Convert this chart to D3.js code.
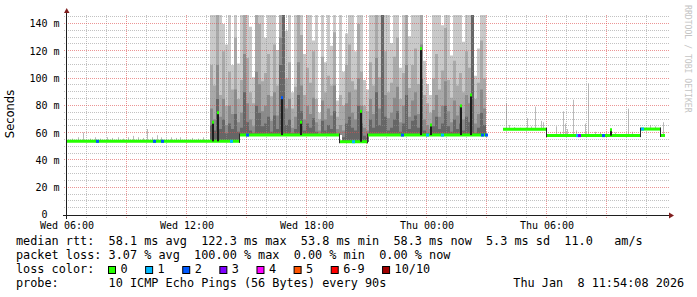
<!DOCTYPE html>
<html>
<head>
<meta charset="utf-8">
<script src="https://cdn.jsdelivr.net/npm/d3@7"></script>
<style>
  html, body { margin: 0; padding: 0; background: #fff; }
  svg { display: block; }
  text { font-family: "DejaVu Sans Mono", monospace; white-space: pre; }
</style>
</head>
<body>
<svg id="chart" width="697" height="297"></svg>
<script>
const parse = d3.timeParse("%Y-%m-%dT%H:%M");

// ── Axes ──────────────────────────────────────────────────────────────────────
const timeStart = "2026-01-07T06:00";
const timeEnd = "2026-01-08T12:00";
const xTickTimes = ["2026-01-07T06:00", "2026-01-07T12:00", "2026-01-07T18:00", "2026-01-08T00:00", "2026-01-08T06:00"];
const xTickLabels = ["Wed 06:00", "Wed 12:00", "Wed 18:00", "Thu 00:00", "Thu 06:00"];
const yTicks = [0, 20, 40, 60, 80, 100, 120, 140];
const yTickLabels = ["0  ", "20 m", "40 m", "60 m", "80 m", "100 m", "120 m", "140 m"];
const yMax = 146.6;

// ── Median rtt (ms), step values; null = no data ─────────────────────────────
const medianTimes = ["2026-01-07T06:00", "2026-01-07T14:39", "2026-01-07T19:39", "2026-01-07T21:03",
  "2026-01-08T03:00", "2026-01-08T03:48", "2026-01-08T06:00", "2026-01-08T10:42", "2026-01-08T11:42", "2026-01-08T11:54"];
const medianValues = [54.0, 58.6, 53.7, 58.6, null, 62.8, 58.2, 63.0, 58.3, 58.3];

// ── Smoke in the busy period, one value every 9 minutes (ms) ─────────────────
const smokeStart = "2026-01-07T13:09";
const smokeStepMin = 9;
const smokeHi = [147,147,147,147,140,125,147,110,147,111,147,147,147,138,101,147,147,147,130,147,147,147,121,
  147,147,135,147,90,147,147,147,118,147,147,128,147,75,147,112,147,124,147,84,147,105,133,
  147,147,120,147,147,99,92,147,147,147,147,147,147,147,126,147,147,108,147,147,131,147,147,
  147,147,113,96,88,147,147,147,139,147,147,117,147,147,147,127,147,147,147,102,122,147,147];
const smokeMid = [110,95,147,88,120,80,105,92,130,85,99,147,115,90,82,147,140,98,104,118,87,125,95,
  147,147,100,112,78,94,147,132,88,108,97,120,85,70,116,90,102,95,134,72,88,80,110,
  125,98,92,140,105,80,76,112,95,147,101,147,120,90,97,116,130,85,104,147,93,110,122,
  96,147,88,82,75,100,118,92,106,137,99,86,113,95,104,90,120,108,147,85,97,128,100];
const smokeLow = [78,70,110,72,85,66,80,74,92,68,75,118,82,70,65,105,96,76,80,88,69,90,73,
  130,147,78,85,64,72,112,95,70,80,74,86,68,62,84,70,78,73,95,63,66,62,82,
  90,75,70,100,80,64,62,85,74,115,78,147,88,71,75,86,94,68,80,110,72,84,90,
  74,125,70,66,63,77,88,72,80,98,76,68,84,73,80,70,88,82,147,67,74,92,78];
const smokeDark = [66,62,85,63,70,60,67,63,74,61,64,90,68,62,60,80,75,65,67,72,61,73,63,
  110,147,66,70,60,63,88,76,62,67,64,71,61,59,69,62,66,63,76,58,58,57,67,
  72,64,62,80,67,58,57,70,64,90,66,147,72,62,64,70,76,61,67,88,63,69,73,
  64,100,62,60,59,65,72,63,67,80,65,61,70,63,67,62,72,68,147,60,64,75,66];

// ── Single light pings in the quiet periods ──────────────────────────────────
const quietSpikeTimes = ["2026-01-07T06:15","2026-01-07T06:33","2026-01-07T06:48","2026-01-07T07:09","2026-01-07T07:24",
  "2026-01-07T07:39","2026-01-07T08:00","2026-01-07T08:15","2026-01-07T08:33","2026-01-07T08:48","2026-01-07T09:03",
  "2026-01-07T09:18","2026-01-07T09:33","2026-01-07T09:48","2026-01-07T10:00","2026-01-07T10:15","2026-01-07T10:30",
  "2026-01-07T10:42","2026-01-07T10:57","2026-01-07T11:12","2026-01-07T11:27","2026-01-07T11:39","2026-01-07T11:57",
  "2026-01-07T12:15","2026-01-07T12:33","2026-01-07T12:48",
  "2026-01-08T03:56","2026-01-08T04:06","2026-01-08T04:21","2026-01-08T04:39","2026-01-08T04:59","2026-01-08T05:12",
  "2026-01-08T05:24","2026-01-08T05:41","2026-01-08T05:47","2026-01-08T06:27","2026-01-08T06:39","2026-01-08T06:48",
  "2026-01-08T06:54","2026-01-08T07:00","2026-01-08T07:18","2026-01-08T07:27","2026-01-08T07:54","2026-01-08T08:04",
  "2026-01-08T08:24","2026-01-08T08:39","2026-01-08T09:09","2026-01-08T09:24","2026-01-08T10:02","2026-01-08T10:15",
  "2026-01-08T11:09","2026-01-08T11:24","2026-01-08T11:47"];
const quietSpikeValues = [56,57,60.5,56,57,56,57,56.5,57,56,57,58,57,56.5,63,57,58.5,57,56,57,56.5,57,56,56.5,56,57,
  82,66,64.5,64,71,65,79.4,69,68,65,61,76,67,63,84.5,62,67,96.5,61,60.5,61.5,60.5,78,61,66,65,68];

// ── Median excursions (dark columns with loss-coloured tip) ──────────────────
const medianSpikeTimes = ["2026-01-07T13:18","2026-01-07T13:33","2026-01-07T16:45","2026-01-07T17:42","2026-01-07T20:42",
  "2026-01-07T23:42","2026-01-08T00:12","2026-01-08T01:42","2026-01-08T02:12","2026-01-08T09:12"];
const medianSpikeValues = [68, 75, 86, 68, 76, 122, 66, 80, 88, 62.5];
const medianSpikeLoss = [0, 0, 2, 0, 0, 0, 0, 0, 0, 0];

// ── Samples with packet loss ──────────────────────────────────────────────────
const lossMarkTimes = ["2026-01-07T07:30","2026-01-07T10:21","2026-01-07T10:45","2026-01-07T14:12","2026-01-07T15:00",
  "2026-01-07T20:18","2026-01-07T22:45","2026-01-08T00:00","2026-01-08T00:45","2026-01-08T02:45","2026-01-08T02:57",
  "2026-01-08T07:30","2026-01-08T07:36","2026-01-08T08:48","2026-01-08T10:45"];
const lossMarkLoss = [2, 2, 2, 1, 2, 1, 2, 1, 1, 2, 2, 1, 3, 2, 1];

// ── Legend ────────────────────────────────────────────────────────────────────
const lossLabels = ["0", "1", "2", "3", "4", "5", "6-9", "10/10"];
const lossPalette = ["#26ff00", "#00b8ff", "#0059ff", "#7e00ff", "#ff00ff", "#ff5500", "#ff0000", "#a10000"];
const rttLine = "median rtt:  58.1 ms avg  122.3 ms max  53.8 ms min  58.3 ms now  5.3 ms sd  11.0   am/s";
const lossLine = "packet loss: 3.07 % avg  100.00 % max  0.00 % min  0.00 % now";
const colorLine = "loss color:";
const probeLine = "probe:       10 ICMP Echo Pings (56 Bytes) every 90s";
const dateLine = "Thu Jan  8 11:54:08 2026";

// ── Setup ─────────────────────────────────────────────────────────────────────
const svg = d3.select("#chart");
const x = d3.scaleTime().domain([parse(timeStart), parse(timeEnd)]).range([67, 667]);
const y = d3.scaleLinear().domain([0, yMax]).range([215, 15]);
const px = (v) => Math.round(v) + 0.5;

const mTimes = medianTimes.map(parse);
function medianAt(t) {
  let v = null;
  for (let i = 0; i < mTimes.length - 1; i++) if (t >= mTimes[i]) v = medianValues[i];
  return v;
}

svg.append("defs").append("clipPath").attr("id", "plot")
  .append("rect").attr("x", 67).attr("y", 15).attr("width", 600).attr("height", 200);
const plot = svg.append("g").attr("clip-path", "url(#plot)");

// ── Smoke ─────────────────────────────────────────────────────────────────────
const s0 = parse(smokeStart);
const smokeTime = (i) => d3.timeMinute.offset(s0, i * smokeStepMin);
const smokeLayers = [
  [smokeHi, "#c9c9c9"], [smokeMid, "#a9a9a9"], [smokeLow, "#8a8a8a"], [smokeDark, "#666666"],
];
smokeLayers.forEach(([vals, col]) => {
  const pts = vals.map((v, i) => ({ t: smokeTime(i), v }));
  pts.push({ t: smokeTime(vals.length), v: vals[vals.length - 1] });
  const area = d3.area()
    .curve(d3.curveStepAfter)
    .x((d) => x(d.t))
    .y0((d) => y(medianAt(d.t) ?? 58.6))
    .y1((d) => y(Math.max(d.v, medianAt(d.t) ?? 58.6)));
  plot.append("path").datum(pts).attr("d", area).attr("fill", col);
});

plot.selectAll(".qspike")
  .data(quietSpikeTimes.map((t, i) => ({ t: parse(t), v: quietSpikeValues[i] })))
  .join("rect")
  .attr("x", (d) => Math.round(x(d.t)))
  .attr("width", 1)
  .attr("y", (d) => y(d.v))
  .attr("height", (d) => y(medianAt(d.t)) - y(d.v))
  .attr("fill", "#bababa");

// ── Grid (drawn over the smoke, as rrdtool does here) ─────────────────────────
const grid = svg.append("g");
const t0 = parse(timeStart), t1 = parse(timeEnd);
d3.timeHour.every(1).range(t0, t1).forEach((t) => {
  const major = t.getHours() % 3 === 0;
  grid.append("line")
    .attr("x1", px(x(t)) - 1).attr("x2", px(x(t)) - 1)
    .attr("y1", 15).attr("y2", 218)
    .attr("stroke", major ? "rgba(222,79,79,0.6)" : "rgba(143,143,143,0.55)")
    .attr("stroke-dasharray", "1,1");
});
d3.range(5, yMax, 5).forEach((v) => {
  const major = v % 20 === 0;
  grid.append("line")
    .attr("x1", 64).attr("x2", 669)
    .attr("y1", px(y(v)) - 1).attr("y2", px(y(v)) - 1)
    .attr("stroke", major ? "rgba(222,79,79,0.6)" : "rgba(143,143,143,0.55)")
    .attr("stroke-dasharray", "1,1");
});

// ── Median line ───────────────────────────────────────────────────────────────
const med = svg.append("g").attr("clip-path", "url(#plot)");
for (let i = 0; i < mTimes.length - 1; i++) {
  const v = medianValues[i];
  if (v == null) continue;
  if (i > 0 && medianValues[i - 1] != null) {
    med.append("rect")
      .attr("x", Math.round(x(mTimes[i])) - 1).attr("width", 1)
      .attr("y", Math.min(y(v), y(medianValues[i - 1])) - 1.5)
      .attr("height", Math.abs(y(v) - y(medianValues[i - 1])) + 3)
      .attr("fill", "#2a2a2a");
  }
  med.append("line")
    .attr("x1", x(mTimes[i])).attr("x2", x(mTimes[i + 1]))
    .attr("y1", y(v)).attr("y2", y(v))
    .attr("stroke", lossPalette[0]).attr("stroke-width", 3);
}

med.selectAll(".mspike")
  .data(medianSpikeTimes.map((t, i) => ({ t: parse(t), v: medianSpikeValues[i], loss: medianSpikeLoss[i] })))
  .join("g")
  .each(function (d) {
    const g = d3.select(this);
    const base = y(medianAt(d.t));
    g.append("rect")
      .attr("x", Math.round(x(d.t)) - 1).attr("width", 2)
      .attr("y", y(d.v)).attr("height", base - y(d.v))
      .attr("fill", "#1e1e1e");
    if (d.v - medianAt(d.t) > 3) {
      g.append("rect")
        .attr("x", Math.round(x(d.t)) - 1).attr("width", 2)
        .attr("y", y(d.v) - 1.5).attr("height", 3)
        .attr("fill", lossPalette[d.loss]);
    }
  });

med.selectAll(".loss")
  .data(lossMarkTimes.map((t, i) => ({ t: parse(t), loss: lossMarkLoss[i] })))
  .join("rect")
  .attr("x", (d) => Math.round(x(d.t)) - 1).attr("width", 3)
  .attr("y", (d) => y(medianAt(d.t)) - 1.5).attr("height", 3)
  .attr("fill", (d) => lossPalette[d.loss]);

// ── Axes ──────────────────────────────────────────────────────────────────────
const axis = svg.append("g");
axis.append("line").attr("x1", 63).attr("x2", 670).attr("y1", px(y(0))).attr("y2", px(y(0)))
  .attr("stroke", "#1f1f1f");
axis.append("line").attr("x1", px(x(t0)) - 1).attr("x2", px(x(t0)) - 1).attr("y1", 219).attr("y2", 12)
  .attr("stroke", "#1f1f1f");
axis.append("path").attr("d", "M64,13 L69.5,13 L66.7,8 Z").attr("fill", "#801f1f");
axis.append("path").attr("d", "M669,212.5 L669,218.5 L674,215.5 Z").attr("fill", "#801f1f");

axis.selectAll(".xl")
  .data(xTickTimes.map((t, i) => ({ t: parse(t), label: xTickLabels[i] })))
  .join("text")
  .attr("x", (d) => x(d.t))
  .attr("y", 228.5)
  .attr("text-anchor", "middle")
  .attr("font-size", "10px")
  .text((d) => d.label);

axis.selectAll(".yl")
  .data(yTicks.map((v, i) => ({ v, label: yTickLabels[i] })))
  .join("text")
  .attr("x", 59.5)
  .attr("y", (d) => y(d.v) + (d.v === 0 ? 2.6 : 3.4))
  .attr("text-anchor", "end")
  .attr("font-size", "10px")
  .attr("xml:space", "preserve")
  .text((d) => d.label);

svg.append("text")
  .attr("transform", "translate(14.3,114) rotate(-90)")
  .attr("text-anchor", "middle")
  .style("font-family", "'DejaVu Sans', sans-serif")
  .attr("font-size", "11.5px")
  .text("Seconds");

svg.append("text")
  .attr("transform", "translate(685,5) rotate(90)")
  .attr("font-size", "8.15px")
  .attr("fill", "#c4c4c4")
  .text("RRDTOOL / TOBI OETIKER");

// ── Legend ────────────────────────────────────────────────────────────────────
const CW = 7.12;
const legend = svg.append("g").attr("font-size", "11.83px").attr("xml:space", "preserve");
[[rttLine, 244.5], [lossLine, 258.5], [colorLine, 272.5], [probeLine, 286.5]].forEach(([s, yy]) => {
  legend.append("text").attr("x", 16).attr("y", yy).text(s);
});
legend.append("text").attr("x", 513.3).attr("y", 286.5).text(dateLine);

let bx = 108;
lossLabels.forEach((lab, i) => {
  legend.append("rect")
    .attr("x", bx + 0.5).attr("y", 266.5).attr("width", 7).attr("height", 7)
    .attr("fill", lossPalette[i]).attr("stroke", "#000").attr("stroke-width", 1);
  legend.append("text").attr("x", bx + 12.5).attr("y", 272.5).text(lab);
  bx = bx + 12.5 + lab.length * CW + 17.5;
});
</script>
</body>
</html>
